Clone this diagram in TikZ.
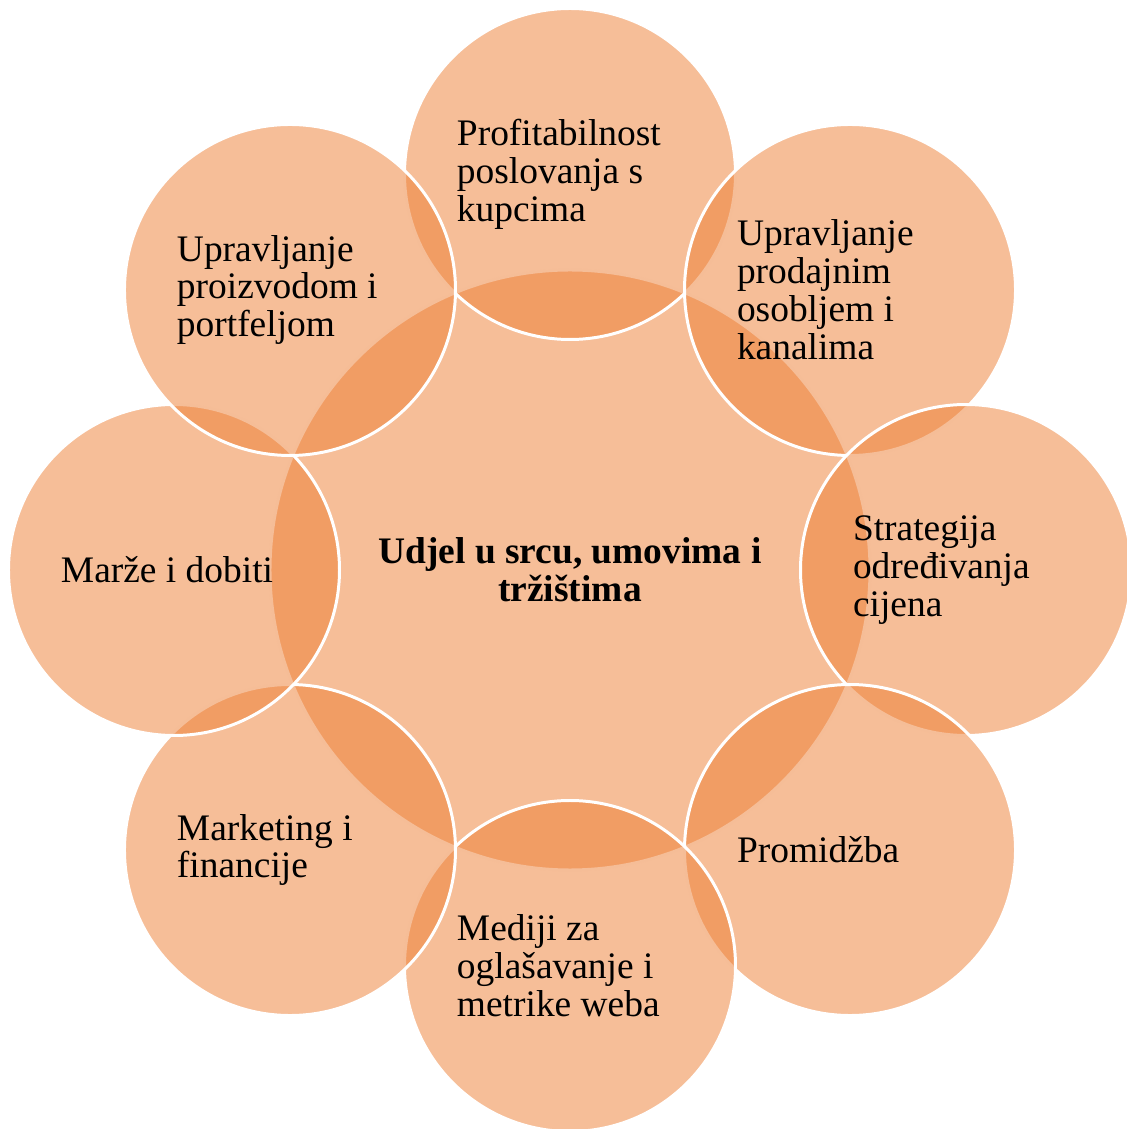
\documentclass[tikz,border=0pt]{standalone}
\usepackage{fontspec}
\setmainfont{Liberation Serif}
\usepackage{tikz}
\usetikzlibrary{positioning}
\definecolor{accent}{RGB}{237, 125, 49}
\tikzset{
    hub/.style={circle, inner sep=0pt, minimum size=12cm, draw=white, line width=1.7pt, fill=accent, fill opacity=0.5},
    bubble/.style={circle, inner sep=0pt, minimum size=6.62cm, draw=white, line width=1.7pt, fill=accent, fill opacity=0.5},
    bubbletext/.style={text width=4.52cm, align=flush left, inner sep=0pt, font=\fontsize{21.3}{21.6}\selectfont},
    hubtext/.style={text width=9cm, align=flush center, inner sep=0pt, font=\fontsize{21.3}{21.6}\selectfont\bfseries}
}
\begin{document}
\begin{tikzpicture}
        \useasboundingbox (-11.40,-11.18) rectangle (11.12,11.40);

        % Central circle
        \node[hub] (hub) at (0, 0) {};

        % Outer circles, clockwise from the top
        \node[bubble] (b1) at (90:7.92) {};
        \node[bubble] (b2) at (45:7.92) {};
        \node[bubble] (b3) at (0:7.92) {};
        \node[bubble] (b4) at (-45:7.92) {};
        \node[bubble] (b5) at (-90:7.92) {};
        \node[bubble] (b6) at (-135:7.92) {};
        \node[bubble] (b7) at (180:7.92) {};
        \node[bubble] (b8) at (135:7.92) {};

        % Central text
        \node[hubtext] (hubt) at (hub) {Udjel u srcu, umovima i\\tržištima};

        % Outer texts
        \node[bubbletext] (t1) at (b1) {Profitabilnost\\poslovanja s\\kupcima};
        \node[bubbletext] (t2) at (b2) {Upravljanje\\prodajnim\\osobljem i\\kanalima};
        \node[bubbletext] (t3) at (b3) {Strategija\\određivanja\\cijena};
        \node[bubbletext] (t4) at (b4) {Promidžba};
        \node[bubbletext] (t5) at (b5) {Mediji za\\oglašavanje i\\metrike weba};
        \node[bubbletext] (t6) at (b6) {Marketing i\\financije};
        \node[bubbletext] (t7) at (b7) {Marže i dobiti};
        \node[bubbletext] (t8) at (b8) {Upravljanje\\proizvodom i\\portfeljom};
    \end{tikzpicture}
\end{document}
